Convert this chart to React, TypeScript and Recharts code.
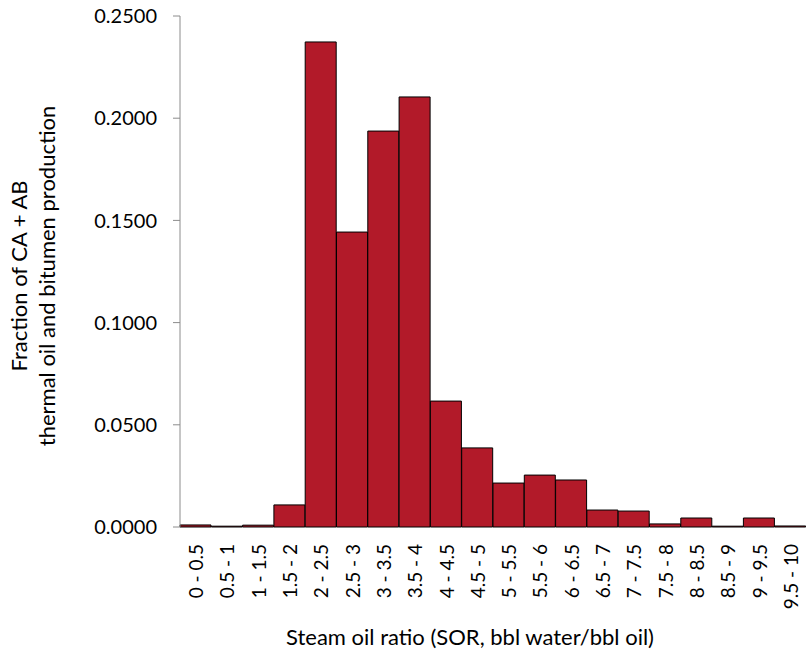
import { BarChart, Bar, XAxis, YAxis, Label } from "recharts";

const FONT = "Lato, 'Open Sans', sans-serif";

// SOR bins (bbl water / bbl oil)
const bins = [
  "0 - 0.5", "0.5 - 1", "1 - 1.5", "1.5 - 2", "2 - 2.5",
  "2.5 - 3", "3 - 3.5", "3.5 - 4", "4 - 4.5", "4.5 - 5",
  "5 - 5.5", "5.5 - 6", "6 - 6.5", "6.5 - 7", "7 - 7.5",
  "7.5 - 8", "8 - 8.5", "8.5 - 9", "9 - 9.5", "9.5 - 10",
];

// fraction of CA + AB thermal production in each bin
const fractions = [
  0.001, 0.0004, 0.0009, 0.0108, 0.2373,
  0.1443, 0.1937, 0.2104, 0.0616, 0.0387,
  0.0215, 0.0254, 0.023, 0.0083, 0.0078,
  0.0015, 0.0044, 0.0004, 0.0044, 0.0005,
];

const yTicks = [0, 0.05, 0.1, 0.15, 0.2, 0.25];
const binEdges = [0, 0.5, 1, 1.5, 2, 2.5, 3, 3.5, 4, 4.5, 5, 5.5, 6, 6.5, 7, 7.5, 8, 8.5, 9, 9.5, 10];

const data = bins.map((bin, i) => ({ bin, fraction: fractions[i] }));

function BinTick({ x, y, payload }: any) {
  return (
    <text
      x={x}
      y={y}
      transform={`rotate(-90, ${x}, ${y})`}
      textAnchor="end"
      dominantBaseline="central"
      fontSize={19}
      fontFamily={FONT}
      fill="#000"
    >
      {payload.value}
    </text>
  );
}

// two-line rotated y title
function YTitle() {
  const cy = 276;
  return (
    <g fontFamily={FONT} fontSize={22} fill="#000">
      <text transform={`translate(27, ${cy}) rotate(-90)`} textAnchor="middle">
        Fraction of CA + AB
      </text>
      <text transform={`translate(55, ${cy}) rotate(-90)`} textAnchor="middle">
        thermal oil and bitumen production
      </text>
    </g>
  );
}

export default function App() {
  return (
    <div style={{ position: "absolute", left: 0, top: 0, background: "#fff" }}>
      <BarChart
        width={806}
        height={654}
        data={data}
        margin={{ top: 16, right: 0, bottom: 0, left: 0 }}
        barCategoryGap={0}
      >
        <XAxis
          xAxisId="edges"
          type="number"
          domain={[0, 10]}
          ticks={binEdges}
          interval={0}
          height={0}
          stroke="#8c8c8c"
          tickSize={6}
          tickFormatter={() => ""}
        />
        <XAxis
          dataKey="bin"
          interval={0}
          height={127}
          axisLine={false}
          tickLine={false}
          tickSize={0}
          tickMargin={17}
          tick={<BinTick />}
        >
          <Label
            value="Steam oil ratio (SOR, bbl water/bbl oil)"
            position="insideBottom"
            offset={9}
            dx={-23}
            fontSize={22}
            fontFamily={FONT}
            fill="#000"
          />
        </XAxis>
        <YAxis
          width={180}
          domain={[0, 0.25]}
          ticks={yTicks}
          interval={0}
          stroke="#8c8c8c"
          tickSize={7}
          tickMargin={16}
          tick={{ fill: "#000", fontSize: 20, fontFamily: FONT }}
          tickFormatter={(v: number) => v.toFixed(4)}
        >
          <Label content={<YTitle />} />
        </YAxis>
        <Bar
          dataKey="fraction"
          fill="#B21A29"
          stroke="#000"
          strokeWidth={1}
          isAnimationActive={false}
        />
      </BarChart>
    </div>
  );
}
